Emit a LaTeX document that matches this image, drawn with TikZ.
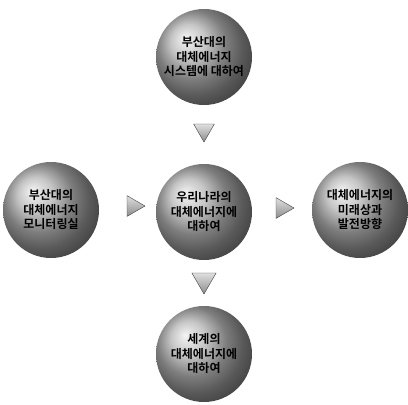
\documentclass[tikz,border=0pt]{standalone}
\usepackage{fontspec}
\newfontfamily\kr{Noto Sans CJK KR Bold}
\usetikzlibrary{shapes.geometric}
\begin{document}
\begin{tikzpicture}[x=1pt,y=-1pt,
  sphere/.style={circle,minimum size=96pt,inner sep=0pt,shading=ball,ball color=gray!60,
    font=\kr\fontsize{12pt}{14.5pt}\selectfont,align=center,text=black},
  tri/.style={regular polygon,regular polygon sides=3,minimum size=24pt,inner sep=0pt,
    top color=gray!25,bottom color=gray!90,draw=gray!50!black,line width=0.4pt}]
\useasboundingbox[fill=white] (0,0) rectangle (408,405);
\node[sphere] (top) at (204,57) {부산대의\\대체에너지\\시스템에 대하여};
\node[sphere] (left) at (51,210) {부산대의\\대체에너지\\모니터링실};
\node[sphere] (mid) at (204,212) {우리나라의\\대체에너지에\\대하여};
\node[sphere] (right) at (360,210) {대체에너지의\\미래상과\\발전방향};
\node[sphere] (bot) at (204,354) {세계의\\대체에너지에\\대하여};
\node[tri,shape border rotate=180] (t1) at (204,130) {};
\node[tri,shape border rotate=-90] (t2) at (133,206) {};
\node[tri,shape border rotate=-90] (t3) at (282,208) {};
\node[tri,shape border rotate=180,minimum size=28pt] (t4) at (204,280) {};
\end{tikzpicture}
\end{document}
